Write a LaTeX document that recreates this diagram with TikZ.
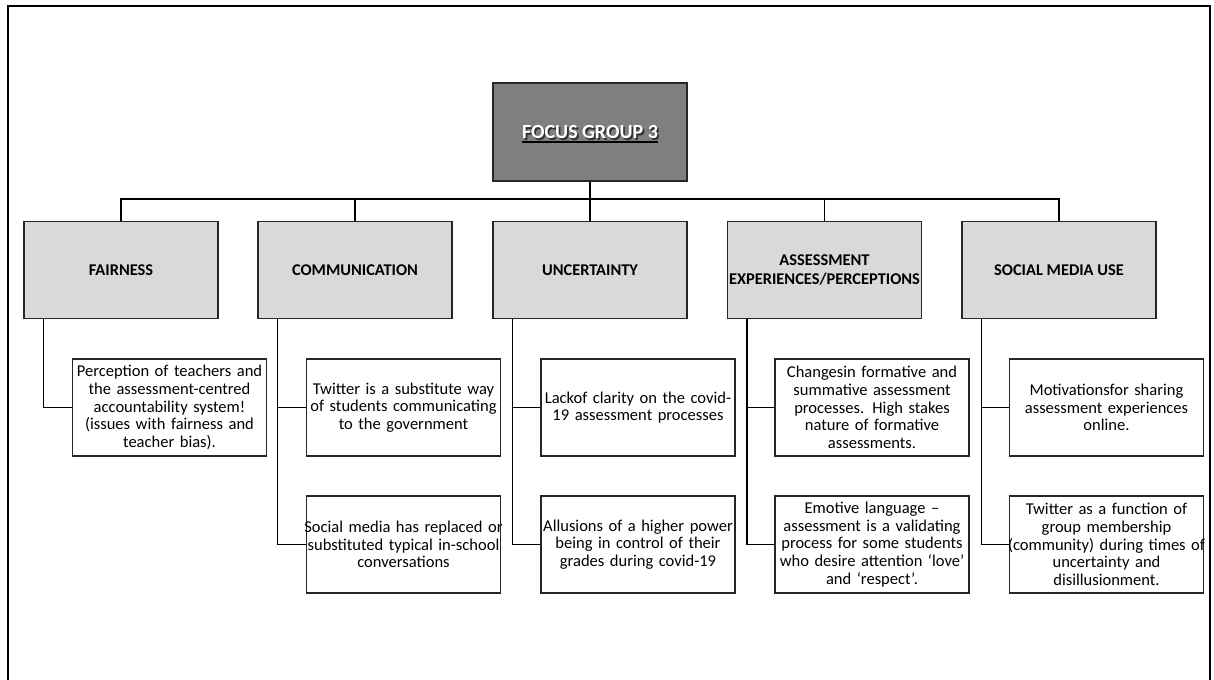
\documentclass[tikz,border=0pt]{standalone}
\usepackage{fontspec}
\setmainfont{Carlito}
\definecolor{boxline}{HTML}{262626}
\definecolor{catfill}{HTML}{D9D9D9}
\definecolor{topfill}{HTML}{7F7F7F}
\newcommand{\leafline}[1]{\makebox[145.5pt][c]{#1}}
\begin{document}
\begin{tikzpicture}[x=0.75pt,y=-0.75pt,
  catbox/.style={draw=boxline, fill=catfill, line width=0.8pt, minimum width=145.5pt, minimum height=72.75pt, inner sep=0pt, font=\fontsize{12.3}{14}\selectfont\bfseries, align=center},
  leafbox/.style={draw=boxline, fill=white, line width=0.8pt, text width=145.5pt, minimum height=72.75pt, inner sep=0pt, font=\fontsize{12.4}{13.3}\selectfont, align=center},
  link/.style={draw=black, line width=0.85pt},
  frame/.style={draw=black, line width=1pt}]
\useasboundingbox (0,0) rectangle (1214,679);
\draw[frame] (8,690) -- (8,6) -- (1210,6) -- (1210,690);

% title
\node[draw=boxline, fill=topfill, line width=0.8pt, minimum width=145.5pt, minimum height=73.5pt, inner sep=0pt] (fg) at (590,132) {};
\node[text=black, opacity=0.6, font=\fontsize{15}{17}\selectfont\bfseries, inner sep=0pt] (fgshadow) at ([shift={(1.3pt,-1.3pt)}]fg.center) {FOCUS GROUP 3};
\node[text=white, font=\fontsize{15}{17}\selectfont\bfseries, inner sep=0pt] (fgtext) at (fg.center) {FOCUS GROUP 3};
\draw[black, line width=1.8pt] ([yshift=-2.6pt]fgtext.base west) -- ([yshift=-2.6pt]fgtext.base east);

% categories
\node[catbox] (fair) at (121,270) {FAIRNESS};
\node[catbox] (comm) at (355,270) {COMMUNICATION};
\node[catbox] (unc) at (590,270) {UNCERTAINTY};
\node[catbox] (asse) at (824.5,270) {ASSESSMENT\\EXPERIENCES/PERCEPTIONS};
\node[catbox] (soc) at (1059,270) {SOCIAL MEDIA USE};

\coordinate (hbar) at (590,199);
\draw[link] (fg.south) -- (fg.south |- hbar);
\draw[link] (fair.north) |- (soc.north |- hbar) -- (soc.north);
\draw[link] (comm.north) -- (comm.north |- hbar);
\draw[link] (unc.north) -- (unc.north |- hbar);
\draw[link] (asse.north) -- (asse.north |- hbar);

% leaves row 1
\node[leafbox] (f1) at (169.5,407.5) {\leafline{Perception of teachers and}\\\leafline{the assessment-centred}\\\leafline{accountability system!}\\\leafline{(issues with fairness and}\\\leafline{teacher bias).}};
\node[leafbox] (c1) at (403.5,407.5) {\leafline{Twitter is a substitute way}\\\leafline{of students communicating}\\\leafline{to the government}};
\node[leafbox] (u1) at (638,407.5) {\leafline{Lackof clarity on the covid-}\\\leafline{19 assessment processes}};
\node[leafbox] (a1) at (872,407.5) {\leafline{Changesin formative and}\\\leafline{summative assessment}\\\leafline{processes. High stakes}\\\leafline{nature of formative}\\\leafline{assessments.}};
\node[leafbox] (s1) at (1106.5,407.5) {\leafline{Motivationsfor sharing}\\\leafline{assessment experiences}\\\leafline{online.}};

% leaves row 2
\node[leafbox] (c2) at (403.5,544.5) {\leafline{Social media has replaced or}\\\leafline{substituted typical in-school}\\\leafline{conversations}};
\node[leafbox] (u2) at (638,544.5) {\leafline{Allusions of a higher power}\\\leafline{being in control of their}\\\leafline{grades during covid-19}};
\node[leafbox] (a2) at (872,544.5) {\leafline{Emotive language --}\\\leafline{assessment is a validating}\\\leafline{process for some students}\\\leafline{who desire attention ‘love’}\\\leafline{and ‘respect’.}};
\node[leafbox] (s2) at (1106.5,544.5) {\leafline{Twitter as a function of}\\\leafline{group membership}\\\leafline{(community) during times of}\\\leafline{uncertainty and}\\\leafline{disillusionment.}};

% leaf connectors
\coordinate (fv) at ([xshift=15pt]fair.south west);
\coordinate (cv) at ([xshift=15pt]comm.south west);
\coordinate (uv) at ([xshift=15pt]unc.south west);
\coordinate (av) at ([xshift=15pt]asse.south west);
\coordinate (sv) at ([xshift=15pt]soc.south west);
\draw[link] (fv) |- (f1.west);
\draw[link] (cv) |- (c2.west);
\draw[link] (cv |- c1.west) -- (c1.west);
\draw[link] (uv) |- (u2.west);
\draw[link] (uv |- u1.west) -- (u1.west);
\draw[link] (av) |- (a2.west);
\draw[link] (av |- a1.west) -- (a1.west);
\draw[link] (sv) |- (s2.west);
\draw[link] (sv |- s1.west) -- (s1.west);
\end{tikzpicture}
\end{document}
